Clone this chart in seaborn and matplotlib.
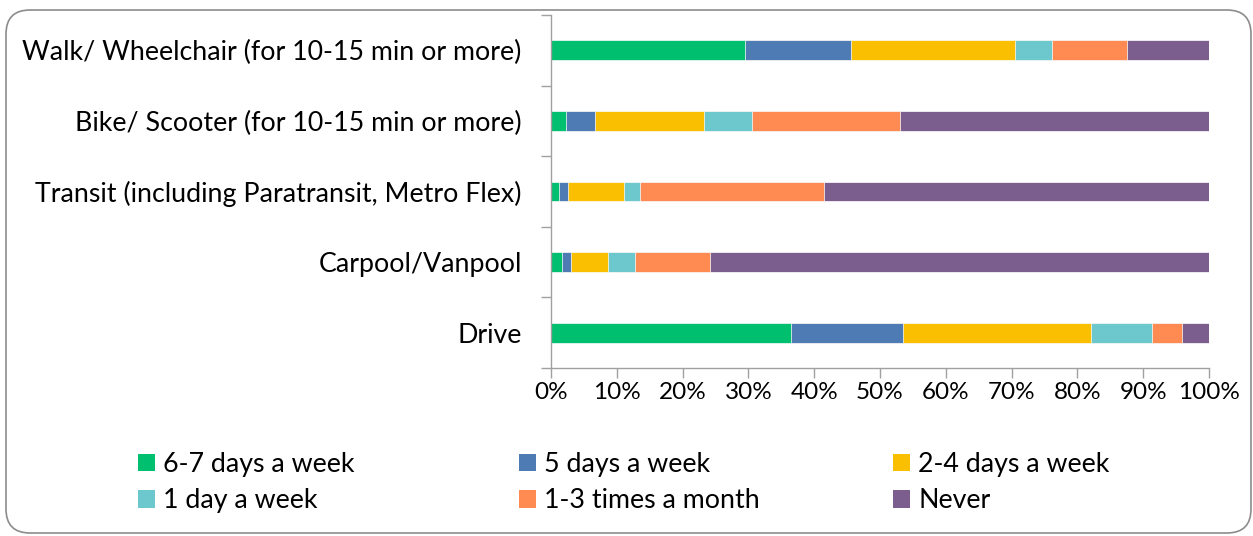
import numpy as np
import matplotlib
matplotlib.use("Agg")
import matplotlib.pyplot as plt
from matplotlib.patches import Patch, FancyBboxPatch
import seaborn as sns

# Share of respondents (%) by travel mode and frequency
categories = [
    "Walk/ Wheelchair (for 10-15 min or more)",
    "Bike/ Scooter (for 10-15 min or more)",
    "Transit (including Paratransit, Metro Flex)",
    "Carpool/Vanpool",
    "Drive",
]
six_seven_days = [29.5, 2.3, 1.2, 1.6, 36.5]
five_days = [16.1, 4.4, 1.4, 1.5, 17.0]
two_four_days = [24.9, 16.5, 8.5, 5.6, 28.6]
one_day = [5.7, 7.4, 2.5, 4.1, 9.3]
monthly = [11.4, 22.4, 27.9, 11.4, 4.5]
never = [12.4, 47.0, 58.5, 75.8, 4.1]

series_names = ["6-7 days a week", "5 days a week", "2-4 days a week",
                "1 day a week", "1-3 times a month", "Never"]
series_values = [six_seven_days, five_days, two_four_days, one_day, monthly, never]
series_colors = ["#00BF6F", "#4F7BB4", "#F9BF00", "#6CC8CC", "#FF8A52", "#7C5E8E"]

x_ticks = list(range(0, 101, 10))
x_tick_labels = [f"{t}%" for t in x_ticks]

sns.set_theme(style="white")
plt.rcParams["font.family"] = ["Lato", "DejaVu Sans"]
FS = 19.3
FS_NUM = 17.5
GRAY = "#A0A0A0"

fig = plt.figure(figsize=(12.53, 5.36), dpi=100)
ax = fig.add_axes([551 / 1253, 1 - 368 / 536, 658 / 1253, 353 / 536])

# Stacked bars: draw running totals from the last segment back to the first
cum = np.cumsum(np.array(series_values), axis=0)
for i in range(len(series_names) - 1, -1, -1):
    sns.barplot(x=cum[i], y=categories, orient="h", color=series_colors[i],
                saturation=1, width=0.28, edgecolor="white", linewidth=0.5,
                ax=ax)

ax.set_xlim(0, 100)
ax.set_ylim(4.5, -0.5)
ax.set_xlabel("")
ax.set_ylabel("")

ax.set_xticks(x_ticks)
ax.set_xticklabels(x_tick_labels, fontsize=FS_NUM, color="black")
ax.tick_params(axis="x", which="major", direction="out", length=7, width=1,
               color=GRAY, pad=3, bottom=True)

ax.set_yticks(range(len(categories)))
ax.set_yticklabels(categories, fontsize=FS, color="black")
ax.tick_params(axis="y", which="major", length=0, pad=21)
ax.set_yticks(np.arange(-0.5, len(categories), 1.0), minor=True)
ax.tick_params(axis="y", which="minor", direction="out", length=7, width=1,
               color=GRAY, left=True)

for side in ["top", "right"]:
    ax.spines[side].set_visible(False)
for side in ["left", "bottom"]:
    ax.spines[side].set_color(GRAY)
    ax.spines[side].set_linewidth(1)

# Legend laid out as three columns of two entries
handles = [Patch(facecolor=c, edgecolor="none") for c in series_colors]
col_x = [138 / 1253, 519 / 1253, 893 / 1253]
for col in range(3):
    idx = [col, col + 3]
    leg = fig.legend([handles[j] for j in idx], [series_names[j] for j in idx],
                     loc="upper left", bbox_to_anchor=(col_x[col], 1 - 452 / 536),
                     frameon=False, fontsize=FS, handlelength=0.64,
                     handleheight=0.64, handletextpad=0.3, labelspacing=0.42,
                     borderaxespad=0, borderpad=0)
    for t in leg.get_texts():
        t.set_color("black")

# Rounded outer frame
frame = FancyBboxPatch((0.06, 0.03), 12.45, 5.23,
                       boxstyle="round,pad=0,rounding_size=0.24",
                       transform=fig.dpi_scale_trans, facecolor="none",
                       edgecolor="#8C8C8C", linewidth=1.2, zorder=-1)
fig.patches.append(frame)

fig.savefig("out.png", dpi=100, facecolor="white")
